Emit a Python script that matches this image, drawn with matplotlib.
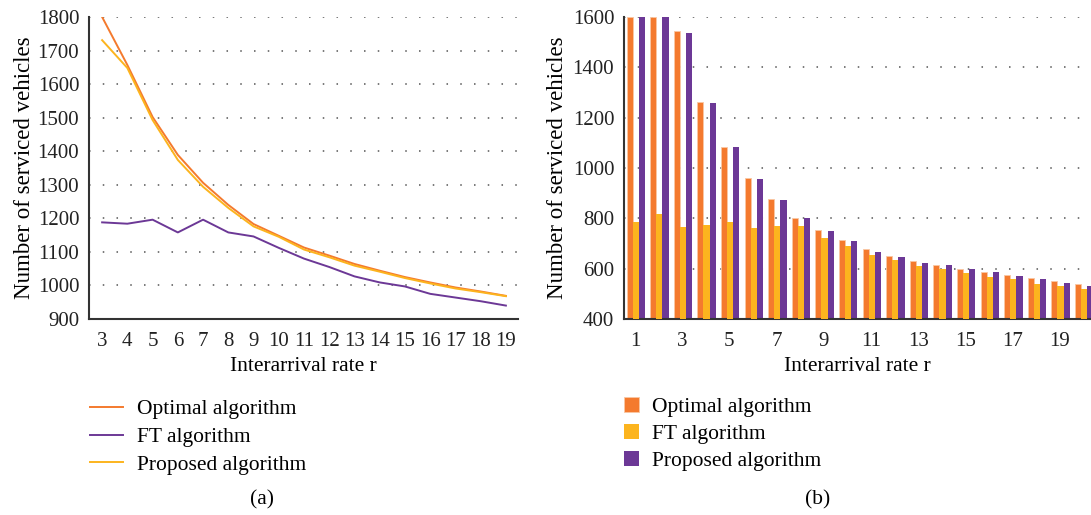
import matplotlib
matplotlib.use("Agg")
import matplotlib.pyplot as plt
import numpy as np

plt.rcParams['font.family'] = ['Liberation Serif', 'DejaVu Serif']

# (a) line chart data
rate_a = [3, 4, 5, 6, 7, 8, 9, 10, 11, 12, 13, 14, 15, 16, 17, 18, 19]
optimal_a = [1800, 1657, 1502, 1389, 1306, 1240, 1183, 1148, 1113, 1089, 1064,
             1044, 1025, 1009, 994, 982, 969]
ft_a = [1188, 1184, 1196, 1158, 1196, 1158, 1146, 1112, 1080, 1055, 1027,
        1009, 997, 975, 964, 953, 940]
proposed_a = [1731, 1648, 1493, 1374, 1294, 1231, 1176, 1145, 1107, 1084, 1059,
              1041, 1022, 1006, 991, 980, 968]

# (b) bar chart data
rate_b = list(range(1, 21))
optimal_b = [1600, 1600, 1546, 1264, 1085, 959, 876, 803, 754, 714, 679, 650,
             630, 616, 600, 588, 575, 563, 550, 538]
ft_b = [787, 816, 767, 772, 787, 760, 768, 769, 723, 690, 654, 634, 611, 597,
        584, 568, 558, 538, 532, 520]
proposed_b = [1600, 1600, 1537, 1257, 1082, 955, 872, 800, 750, 710, 666, 646,
              622, 615, 599, 587, 571, 559, 543, 531]

labels = ['Optimal algorithm', 'FT algorithm', 'Proposed algorithm']

c_orange = '#F47A2E'
c_yellow = '#FCB41E'
c_purple = '#6C3896'
grid_kw = dict(color='#555555', linestyle=(0, (1, 8)), linewidth=1.1)

fig = plt.figure(figsize=(10.91, 5.15), dpi=100)

# ---- (a) ----
ax1 = fig.add_axes([89 / 1091, 1 - 319 / 515, 429 / 1091, 302 / 515])
l1, = ax1.plot(rate_a, optimal_a, color=c_orange, lw=1.4)
l2, = ax1.plot(rate_a, ft_a, color=c_purple, lw=1.4)
l3, = ax1.plot(rate_a, proposed_a, color=c_yellow, lw=1.4)
ax1.set_xlim(2.48, 19.48)
ax1.set_ylim(900, 1800)
ax1.set_xticks(rate_a)
ax1.set_yticks(np.arange(900, 1801, 100))
ax1.set_xlabel('Interarrival rate r', fontsize=15.5, labelpad=5)
ax1.set_ylabel('Number of serviced vehicles', fontsize=16.5, labelpad=2)
fig.legend([l1, l2, l3], labels, loc='center left', bbox_to_anchor=(90 / 1091, 1 - 437 / 515),
           frameon=False, fontsize=15.5, handlelength=1.55, handletextpad=0.65,
           labelspacing=0.36, borderpad=0, borderaxespad=0)
fig.text(262 / 1091, 1 - 500 / 515, '(a)', fontsize=15.5, ha='center', va='center')

# ---- (b) ----
ax2 = fig.add_axes([624 / 1091, 1 - 319 / 515, 467 / 1091, 302 / 515])
x = np.array(rate_b)
w = 0.26
b1 = ax2.bar(x - w + 0.03, optimal_b, w, color=c_orange, edgecolor='#F9C7A4', linewidth=0.6, zorder=2)
b2 = ax2.bar(x + 0.03, ft_b, w, color=c_yellow, zorder=3)
b3 = ax2.bar(x + w + 0.03, proposed_b, w, color=c_purple, zorder=2)
ax2.set_xlim(0.534, 20.32)
ax2.set_ylim(400, 1600)
ax2.set_xticks(rate_b[::2])
ax2.set_yticks(np.arange(400, 1601, 200))
ax2.set_xlabel('Interarrival rate r', fontsize=15.5, labelpad=5)
ax2.set_ylabel('Number of serviced vehicles', fontsize=16.5, labelpad=3)
fig.legend([b1, b2, b3], labels, loc='center left', bbox_to_anchor=(624 / 1091, 1 - 434 / 515),
           frameon=False, fontsize=15.5, handlelength=0.68, handleheight=0.68,
           handletextpad=0.6, labelspacing=0.33, borderpad=0, borderaxespad=0)
fig.text(818 / 1091, 1 - 500 / 515, '(b)', fontsize=15.5, ha='center', va='center')

for ax in (ax1, ax2):
    ax.grid(axis='y', **grid_kw)
    ax.set_axisbelow(True)
    for s in ('top', 'right'):
        ax.spines[s].set_visible(False)
    for s in ('left', 'bottom'):
        ax.spines[s].set_color('#333333')
        ax.spines[s].set_linewidth(1.5)
    ax.tick_params(length=0, labelsize=15, colors='#222222')
    ax.tick_params(axis='x', pad=9)
    ax.tick_params(axis='y', pad=7)

fig.savefig('out.png', dpi=100)
